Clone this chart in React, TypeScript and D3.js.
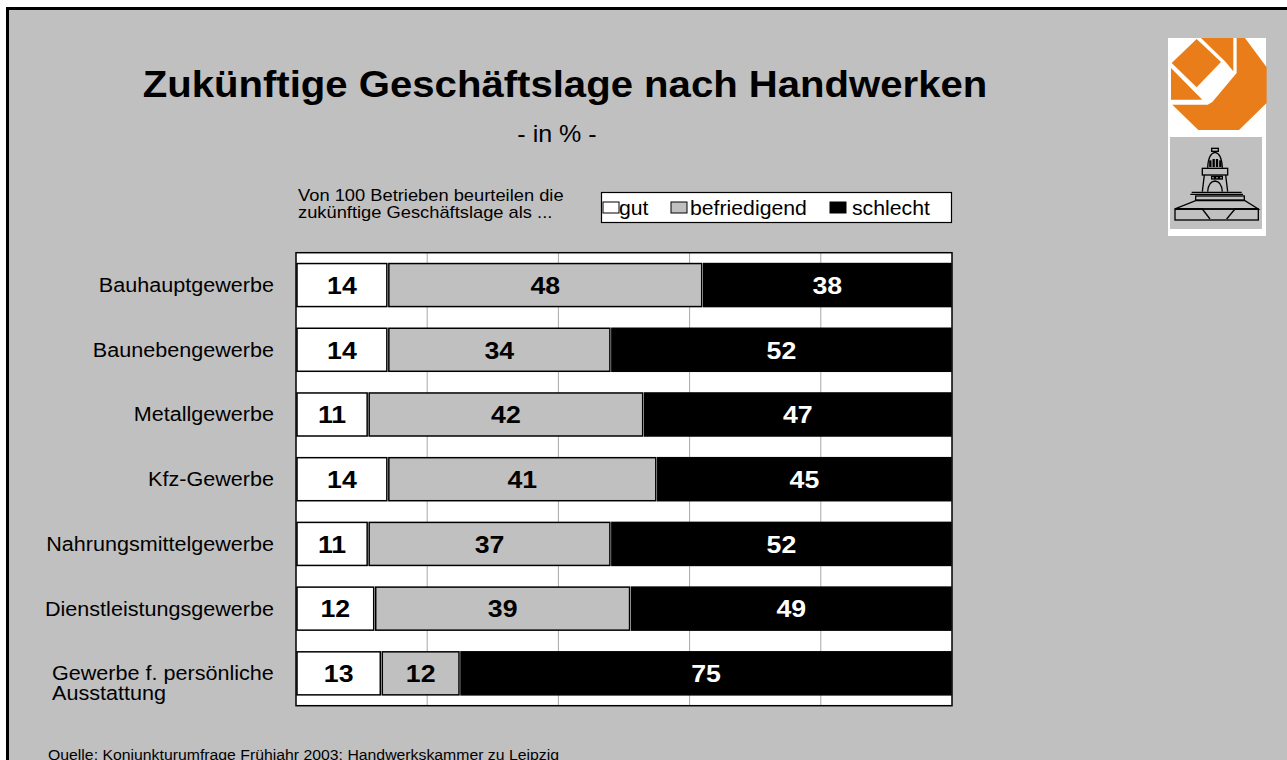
import React from 'react';
import * as d3 from 'd3';

const categories = [
  'Bauhauptgewerbe',
  'Baunebengewerbe',
  'Metallgewerbe',
  'Kfz-Gewerbe',
  'Nahrungsmittelgewerbe',
  'Dienstleistungsgewerbe',
  'Gewerbe f. persönliche\nAusstattung',
];
const gut = [14, 14, 11, 14, 11, 12, 13];
const befriedigend = [48, 34, 42, 41, 37, 39, 12];
const schlecht = [38, 52, 47, 45, 52, 49, 75];
const seriesKeys = ['gut', 'befriedigend', 'schlecht'];
const seriesFill: Record<string, string> = { gut: '#ffffff', befriedigend: '#c0c0c0', schlecht: '#000000' };
const gridTicks = [20, 40, 60, 80];

const FONT = '"Liberation Sans", Arial, sans-serif';
const SX = 1.09; // the slide is stretched a little horizontally

function Txt({ x, y, size, bold, anchor = 'start', fill = '#000', children }: any) {
  return (
    <text
      transform={`translate(${x},${y}) scale(${SX},1)`}
      fontFamily={FONT}
      fontSize={size}
      fontWeight={bold ? 'bold' : 'normal'}
      textAnchor={anchor}
      fill={fill}
    >
      {children}
    </text>
  );
}

function Logo() {
  return (
    <g>
      <rect x={1168} y={38} width={98} height={198} fill="#fff" />
      <g transform="translate(1165,38) scale(0.3333)" fill="#e87d1a">
        <polygon points="20,75 95,3 168,72 95,148" />
        <polygon points="18,90 18,185 112,185" />
        <polygon points="108,0 205,0 205,100 180,70" />
        <polygon points="215,0 240,0 305,88 305,195 222,276 100,276 22,200 128,200 142,192 215,105" />
      </g>
      <rect x={1170} y={137} width={92} height={92} fill="#c0c0c0" />
      <g transform="translate(1165,135) scale(0.3333)" fill="none" stroke="#000" strokeWidth={4}>
        <rect x={140} y={40} width={20} height={9} />
        <path d="M128,98 Q130,55 150,52 Q170,55 172,98" />
        <line x1={136} y1={76} x2={136} y2={96} strokeWidth={7} />
        <line x1={146} y1={72} x2={146} y2={96} strokeWidth={7} />
        <line x1={156} y1={72} x2={156} y2={96} strokeWidth={7} />
        <line x1={166} y1={76} x2={166} y2={96} strokeWidth={7} />
        <rect x={112} y={100} width={76} height={20} />
        <rect x={140} y={124} width={8} height={8} />
        <rect x={152} y={124} width={8} height={8} />
        <rect x={164} y={124} width={8} height={8} />
        <path d="M118,120 L112,170 M182,120 L188,170" />
        <path d="M128,170 Q130,140 150,138 Q170,140 172,170" />
        <line x1={80} y1={172} x2={230} y2={172} />
        <line x1={76} y1={178} x2={234} y2={178} />
        <rect x={92} y={183} width={146} height={12} />
        <path d="M30,222 L92,197 L240,197 L280,222 Z" />
        <rect x={30} y={222} width={250} height={33} />
        <path d="M30,222 L112,222 L135,252 M280,222 L210,222 L185,252" />
      </g>
    </g>
  );
}

export default function App() {
  const W = 1287;
  const H = 760;
  const plot = { left: 296, right: 952, top: 252.7, bottom: 705.7 };

  const x = d3.scaleLinear().domain([0, 100]).range([plot.left, plot.right]);
  const y = d3.scaleBand<string>().domain(categories).range([plot.top, plot.bottom]).paddingInner(0.335).paddingOuter(0.1675);

  const rows = categories.map((c, i) => ({ cat: c, gut: gut[i], befriedigend: befriedigend[i], schlecht: schlecht[i] }));
  const stacked = d3.stack<any>().keys(seriesKeys)(rows);

  const legendItems = [
    { key: 'gut', sx: 603, tx: 619 },
    { key: 'befriedigend', sx: 671, tx: 690 },
    { key: 'schlecht', sx: 830, tx: 852 },
  ];

  return (
    <svg width={W} height={H} style={{ position: 'absolute', left: 0, top: 0 }}>
      <rect width={W} height={H} fill="#fff" />
      <rect x={7.5} y={8.5} width={W + 20} height={H + 20} fill="#c0c0c0" stroke="#000" strokeWidth={3} />

      <Txt x={565} y={97} size={36.8} bold anchor="middle">Zukünftige Geschäftslage nach Handwerken</Txt>
      <Txt x={557} y={142} size={23} anchor="middle">- in % -</Txt>

      <Logo />

      <Txt x={298} y={201} size={16.8}>Von 100 Betrieben beurteilen die</Txt>
      <Txt x={298} y={218} size={16.8}>zukünftige Geschäftslage als ...</Txt>

      {/* legend */}
      <rect x={601.5} y={192.5} width={350} height={30} fill="#fff" stroke="#000" strokeWidth={1.2} />
      {legendItems.map(l => (
        <g key={l.key}>
          <rect x={l.sx} y={202} width={16} height={11} fill={seriesFill[l.key]} stroke="#000" strokeWidth={1} />
          <Txt x={l.tx} y={215} size={19.5}>{l.key}</Txt>
        </g>
      ))}

      {/* plot area */}
      <rect x={plot.left} y={plot.top} width={plot.right - plot.left} height={plot.bottom - plot.top} fill="#fff" />
      {gridTicks.map(t => (
        <line key={t} x1={x(t)} x2={x(t)} y1={plot.top} y2={plot.bottom} stroke="#a8a8a8" strokeWidth={1} />
      ))}

      {stacked.map(s => (
        <g key={s.key}>
          {s.map((d, i) => {
            const x0 = x(d[0]) + 1;
            const x1 = x(d[1]) - 1;
            const yy = y(categories[i])!;
            const bw = y.bandwidth();
            return (
              <g key={i}>
                <rect
                  x={x0}
                  y={yy}
                  width={x1 - x0}
                  height={bw}
                  fill={seriesFill[s.key]}
                  stroke="#000"
                  strokeWidth={1.5}
                />
                <Txt
                  x={(x0 + x1) / 2}
                  y={yy + bw / 2 + 8.8}
                  size={24.5}
                  bold
                  anchor="middle"
                  fill={s.key === 'schlecht' ? '#fff' : '#000'}
                >
                  {d[1] - d[0]}
                </Txt>
              </g>
            );
          })}
        </g>
      ))}

      <rect x={plot.left} y={plot.top} width={plot.right - plot.left} height={plot.bottom - plot.top} fill="none" stroke="#000" strokeWidth={1.5} />

      {/* category labels */}
      {categories.map(c => {
        const cy = y(c)! + y.bandwidth() / 2;
        const lines = c.split('\n');
        if (lines.length > 1) {
          return (
            <g key={c}>
              <Txt x={52} y={cy + 7} size={19.8}>{lines[0]}</Txt>
              <Txt x={52} y={cy + 27} size={19.8}>{lines[1]}</Txt>
            </g>
          );
        }
        return <Txt key={c} x={274} y={cy + 7} size={19.8} anchor="end">{c}</Txt>;
      })}

      <Txt x={48} y={760} size={14.5}>Quelle: Konjunkturumfrage Frühjahr 2003; Handwerkskammer zu Leipzig</Txt>
    </svg>
  );
}
